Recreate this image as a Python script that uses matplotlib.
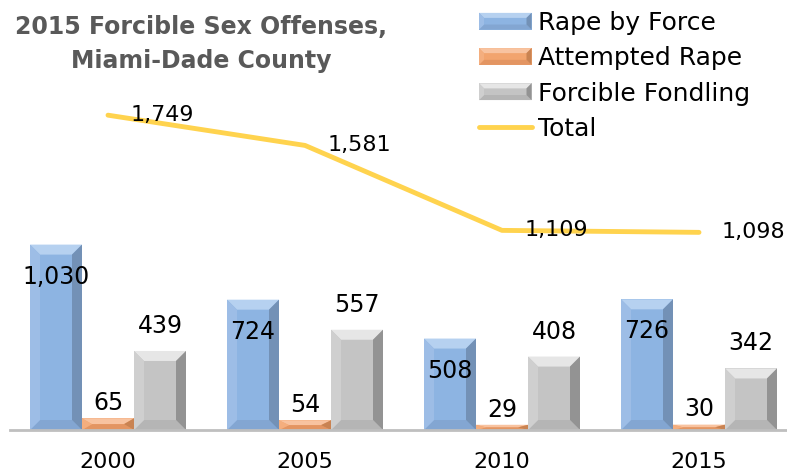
import matplotlib
matplotlib.use("Agg")
import matplotlib.pyplot as plt
from matplotlib.patches import Polygon, Rectangle
from matplotlib.lines import Line2D
from matplotlib.legend_handler import HandlerBase

years = ["2000", "2005", "2010", "2015"]
rape_by_force = [1030, 724, 508, 726]
attempted_rape = [65, 54, 29, 30]
forcible_fondling = [439, 557, 408, 342]
total = [1749, 1581, 1109, 1098]

series_names = ["Rape by Force", "Attempted Rape", "Forcible Fondling", "Total"]

# facet colours for the bevelled bars: face, top, bottom, left, right
BLUE = dict(face="#8DB4E2", top="#B6D1F0", bottom="#83A6D2", left="#9DBDE6", right="#7391B6")
ORANGE = dict(face="#F2A46E", top="#F8C3A0", bottom="#E39562", left="#F4AE7E", right="#C98352")
GRAY = dict(face="#C4C4C4", top="#E6E6E6", bottom="#B5B5B5", left="#CFCFCF", right="#939393")
LINE_COLOR = "#FFD34E"

plt.rcParams["font.family"] = ["DejaVu Sans"]

fig = plt.figure(figsize=(7.87, 4.73), dpi=100)
W, H = 787, 473
base_px = 430
ax = fig.add_axes([10 / W, (H - base_px) / H, (W - 10) / W, base_px / H])
px_per_unit = 0.18
group_px = 197.0
ax.set_ylim(0, base_px / px_per_unit)
ax.set_xlim(-98 / group_px, (W - 10 - 98) / group_px)

bar_w = 52 / group_px
bev_x = 10 / group_px
bev_y = 10 / px_per_unit


def bevel_bar(ax, xc, h, c):
    x0, x1 = xc - bar_w / 2, xc + bar_w / 2
    bx = bev_x
    by = min(bev_y, h / 2)
    ax.add_patch(Rectangle((x0, 0), bar_w, h, facecolor=c["face"], edgecolor="none", zorder=2))
    facets = [
        ([(x0, h), (x1, h), (x1 - bx, h - by), (x0 + bx, h - by)], c["top"]),
        ([(x0, 0), (x1, 0), (x1 - bx, by), (x0 + bx, by)], c["bottom"]),
        ([(x0, 0), (x0 + bx, by), (x0 + bx, h - by), (x0, h)], c["left"]),
        ([(x1, 0), (x1 - bx, by), (x1 - bx, h - by), (x1, h)], c["right"]),
    ]
    for pts, col in facets:
        ax.add_patch(Polygon(pts, closed=True, facecolor=col, edgecolor="none", zorder=2))


for i in range(len(years)):
    bevel_bar(ax, i - bar_w, rape_by_force[i], BLUE)
    bevel_bar(ax, i, attempted_rape[i], ORANGE)
    bevel_bar(ax, i + bar_w, forcible_fondling[i], GRAY)

    ax.annotate(f"{rape_by_force[i]:,}", (i - bar_w, rape_by_force[i]), xytext=(0, -23),
                textcoords="offset points", ha="center", va="center", fontsize=17, zorder=4)
    ax.annotate(f"{attempted_rape[i]:,}", (i, attempted_rape[i]), xytext=(0, 11),
                textcoords="offset points", ha="center", va="center", fontsize=17, zorder=4)
    ax.annotate(f"{forcible_fondling[i]:,}", (i + bar_w, forcible_fondling[i]), xytext=(0, 18),
                textcoords="offset points", ha="center", va="center", fontsize=17, zorder=4)

xs = list(range(len(years)))
ax.plot(xs, total, color=LINE_COLOR, lw=3.5, solid_capstyle="round", zorder=3)
for i, v in enumerate(total):
    ax.annotate(f"{v:,}", (i, v), xytext=(16, 0), textcoords="offset points",
                ha="left", va="center", fontsize=16, zorder=4)

ax.set_xticks(xs)
ax.set_xticklabels(years, fontsize=16)
ax.tick_params(axis="x", length=0, pad=16)
ax.set_yticks([])
for s in ["top", "left", "right"]:
    ax.spines[s].set_visible(False)
ax.spines["bottom"].set_color("#BFBFBF")
ax.spines["bottom"].set_linewidth(2)
ax.patch.set_alpha(0)

fig.text(201 / W, 1 - 44 / H, "2015 Forcible Sex Offenses,\nMiami-Dade County",
         ha="center", va="center", fontsize=17, fontweight="bold", color="#595959",
         linespacing=1.55)


class BevelHandler(HandlerBase):
    def __init__(self, colors):
        super().__init__()
        self.c = colors

    def create_artists(self, legend, orig_handle, xdescent, ydescent, width, height, fontsize, trans):
        c = self.c
        x0, y0, x1, y1 = -xdescent, -ydescent, -xdescent + width, -ydescent + height
        b = height * 0.3
        arts = [Rectangle((x0, y0), width, height, facecolor=c["face"], edgecolor="none", transform=trans)]
        facets = [
            ([(x0, y1), (x1, y1), (x1 - b, y1 - b), (x0 + b, y1 - b)], c["top"]),
            ([(x0, y0), (x1, y0), (x1 - b, y0 + b), (x0 + b, y0 + b)], c["bottom"]),
            ([(x0, y0), (x0 + b, y0 + b), (x0 + b, y1 - b), (x0, y1)], c["left"]),
            ([(x1, y0), (x1 - b, y0 + b), (x1 - b, y1 - b), (x1, y1)], c["right"]),
        ]
        for pts, col in facets:
            arts.append(Polygon(pts, closed=True, facecolor=col, edgecolor="none", transform=trans))
        return arts


h_blue = Rectangle((0, 0), 1, 1)
h_orange = Rectangle((0, 0), 1, 1)
h_gray = Rectangle((0, 0), 1, 1)
h_line = Line2D([], [], color=LINE_COLOR, lw=3.5, solid_capstyle="round")
fig.legend([h_blue, h_orange, h_gray, h_line], series_names,
           handler_map={h_blue: BevelHandler(BLUE), h_orange: BevelHandler(ORANGE),
                        h_gray: BevelHandler(GRAY)},
           loc="upper left", bbox_to_anchor=(479 / W, 1 - 11 / H), frameon=False,
           fontsize=18, handlelength=2.1, handleheight=0.65, handletextpad=0.25,
           labelspacing=0.45, borderpad=0, borderaxespad=0)

fig.savefig("out.png", dpi=100)
